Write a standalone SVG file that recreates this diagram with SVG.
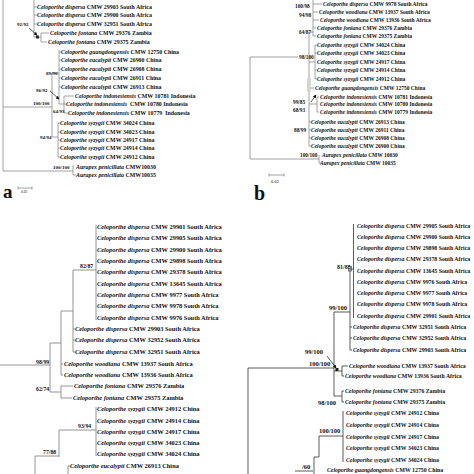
<svg xmlns="http://www.w3.org/2000/svg" width="474" height="474" viewBox="0 0 474 474">
<defs>
<style>
text{font-family:"Liberation Serif","Times New Roman",serif;font-weight:bold;fill:#111}
.ta{font-size:5.9px}.tb{font-size:5.5px}.tc{font-size:6.4px}.td{font-size:5.8px}
.i{font-style:italic}
.sa{font-size:5px}.sb{font-size:5.3px}.sc{font-size:5.8px}.sd{font-size:6.5px}
.la{stroke:#8c8c8c;stroke-width:.8;fill:none}
.lc{stroke:#7a7a7a;stroke-width:.8;fill:none}
.ld{stroke:#333;stroke-width:.8;fill:none}
.ar{stroke:#111;stroke-width:.7;fill:none}
</style>
<marker id="ah" viewBox="0 0 6 6" refX="5" refY="3" markerWidth="5" markerHeight="5" orient="auto"><path d="M0,0L6,3L0,6z" fill="#111"/></marker>
</defs>
<rect width="474" height="474" fill="#fff"/>

<g id="connectors">
<!-- panel a -->
<path class="la" d="M3,0V171H73M73,165V175H76M3,107H52M52,73V137M52,73H59M59,50V104M59,52H61M59,60H61M59,69H61M59,78H61M59,87H61M59,104H64M64,96V113M64,96H74M64,104H66M64,113H68M52,137H58M58,123V157M58,123H60M58,132H60M58,140H60M58,148H60M58,157H60"/>
<path class="la" d="M34,0V37M34,7H37M34,15H37M34,24H37M34,37H41M41,33V42M41,33H49M41,42H47"/>
<rect x="36" y="35.5" width="3" height="3" fill="#222"/>
<path class="ar" d="M29,28L37,35" marker-end="url(#ah)"/>
<path class="ar" d="M50,91L59,99" marker-end="url(#ah)"/>
<path class="la" d="M18,188H32M18,186.5V189.5M32,186.5V189.5"/>
<!-- panel b -->
<path class="la" d="M250,57V159H319M250,57H298M319,155V163H321M313,0V36M313,4H322M313,12H318M313,20H319M313,28H316M313,36H316M309,32V146M309,32H313M309,62H315M315,45V79M315,45H317M315,53H317M315,70H317M315,79H317M309,88H314M309,104H317M317,97V112M317,97H319M317,112H319M309,122H311M309,130H311M309,138H311M309,146H311"/>
<rect x="307" y="78" width="4" height="14" fill="#d4d4d4"/>
<path class="ar" d="M311,102L316,95" marker-end="url(#ah)"/>
<path class="la" d="M269,175H284M269,173.5V176.5M284,173.5V176.5"/>
<!-- panel c -->
<path class="lc" d="M96,225V320M73,270H96M73,270V352M73,329H75M73,340H75M73,352H75M61,311H73M61,311V375M61,364H63M61,375H63M50,343H61M50,343V392M0,365H50M50,392H61M61,386V398M61,386H73M61,398H72M96,407V456M59,430H96M59,430V457M35,456H59M35,456V474M68,466V474M68,466H70"/>
<!-- panel d -->
<path class="ld" d="M353.5,224V318M350,269H353.5M350,269V350M350,327H352M350,338H352M350,350H352M334,312H350M334,312V396M334,371H342M342,366V376M342,366H348M342,376H344M334,396H342M342,391V402M342,391H344M342,402H344M248,368H334M248,368V474M343,411V462M319,436H343M319,436V457M314,457H319M314,457V474M295,471H313"/>
<rect x="348.5" y="266.5" width="3" height="4.5" fill="none" stroke="#333" stroke-width=".6"/>
<rect x="335.5" y="368" width="3" height="3" fill="#222"/>
<path class="ar" d="M327,356L336,368" marker-end="url(#ah)"/>
</g>

<g id="support-values">
<text class="sa" x="17" y="26">92/92</text>
<text class="sa" x="46" y="75">89/90</text>
<text class="sa" x="36" y="92">96/92</text>
<text class="sa" x="33" y="105">100/100</text>
<text class="sa" x="53" y="113">64/93</text>
<text class="sa" x="40" y="139">94/94</text>
<text class="sa" x="53" y="169">100/100</text>
<text class="sb" x="295" y="8">100/98</text>
<text class="sb" x="299" y="17">94/98</text>
<text class="sb" x="299" y="34">64/87</text>
<text class="sb" x="299" y="59">98/100</text>
<text class="sb" x="293" y="104">99/85</text>
<text class="sb" x="293" y="112">68/93</text>
<text class="sb" x="294" y="132">88/99</text>
<text class="sb" x="300" y="157">100/100</text>
<text class="sc" x="80" y="268">82/87</text>
<text class="sc" x="36" y="364">98/99</text>
<text class="sc" x="36" y="391">62/74</text>
<text class="sc" x="78" y="428">93/94</text>
<text class="sc" x="43" y="454">77/88</text>
<text class="sd" x="337" y="269" style="font-size:6px">81/85</text>
<text class="sd" x="329" y="310">99/100</text>
<text class="sd" x="305" y="354">99/100</text>
<text class="sd" x="309" y="366">100/100</text>
<text class="sd" x="318" y="405">98/100</text>
<text class="sd" x="319" y="433">100/100</text>
<text class="sd" x="302" y="469">/60</text>
</g>

<g id="panel-labels">
<text x="3" y="198" style="font-size:19px">a</text>
<text x="254" y="200" style="font-size:20px">b</text>
<text x="21" y="193" style="font-size:3.5px;font-weight:normal">0.02</text>
<text x="271" y="183" style="font-size:4.5px;font-weight:normal">0.02</text>
</g>

<g id="panel-a">
<g id="a1"><text class="ta" x="37" y="9"><tspan class="i">Celoporthe dispersa</tspan> CMW 29903 South Africa</text></g>
<g id="a2"><text class="ta" x="37" y="17"><tspan class="i">Celoporthe dispersa</tspan> CMW 29900 South Africa</text></g>
<g id="a3"><text class="ta" x="37" y="26"><tspan class="i">Celoporthe dispersa</tspan> CMW 32951 South Africa</text></g>
<g id="a4"><text class="ta" x="50" y="35"><tspan class="i">Celoporthe fontana</tspan> CMW 29376 Zambia</text></g>
<g id="a5"><text class="ta" x="48" y="44"><tspan class="i">Celoporthe fontana</tspan> CMW 29375 Zambia</text></g>
<g id="a6"><text class="ta" x="61" y="54"><tspan class="i">Celoporthe guangdongensis</tspan> CMW 12750 China</text></g>
<g id="a7"><text class="ta" x="61" y="62"><tspan class="i">Celoporthe eucalypti</tspan> CMW 26900 China</text></g>
<g id="a8"><text class="ta" x="61" y="71"><tspan class="i">Celoporthe eucalypti</tspan> CMW 26908 China</text></g>
<g id="a9"><text class="ta" x="61" y="80"><tspan class="i">Celoporthe eucalypti</tspan> CMW 26911 China</text></g>
<g id="a10"><text class="ta" x="61" y="89"><tspan class="i">Celoporthe eucalypti</tspan> CMW 26913 China</text></g>
<g id="a11"><text class="ta" x="75" y="98"><tspan class="i">Celoporthe indonesiensis</tspan> CMW 10781 Indonesia</text></g>
<g id="a12"><text class="ta" x="66" y="106" xml:space="preserve"><tspan class="i">Celoporthe indonesiensis</tspan>  CMW 10780 Indonesia</text></g>
<g id="a13"><text class="ta" x="68" y="115" xml:space="preserve"><tspan class="i">Celoporthe indonesiensis</tspan> CMW 10779  Indonesia</text></g>
<g id="a14"><text class="ta" x="60" y="125"><tspan class="i">Celoporthe syzygii</tspan> CMW 34024 China</text></g>
<g id="a15"><text class="ta" x="60" y="134"><tspan class="i">Celoporthe syzygii</tspan> CMW 34023 China</text></g>
<g id="a16"><text class="ta" x="60" y="142"><tspan class="i">Celoporthe syzygii</tspan> CMW 24917 China</text></g>
<g id="a17"><text class="ta" x="60" y="150"><tspan class="i">Celoporthe syzygii</tspan> CMW 24914 China</text></g>
<g id="a18"><text class="ta" x="60" y="159"><tspan class="i">Celoporthe syzygii</tspan> CMW 24912 China</text></g>
<g id="a19"><text class="ta" x="76" y="169"><tspan class="i">Aurapex penicillata</tspan> CMW10030</text></g>
<g id="a20"><text class="ta" x="76" y="177"><tspan class="i">Aurapex penicillata</tspan> CMW10035</text></g>
</g>

<g id="panel-b">
<g id="b1"><text class="tb" x="323" y="6"><tspan class="i">Celoporthe dispersa</tspan> CMW 9978 South Africa</text></g>
<g id="b2"><text class="tb" x="319" y="14"><tspan class="i">Celoporthe woodiana</tspan> CMW 13937 South Africa</text></g>
<g id="b3"><text class="tb" x="320" y="22"><tspan class="i">Celoporthe woodiana</tspan> CMW 13936 South Africa</text></g>
<g id="b4"><text class="tb" x="317" y="30"><tspan class="i">Celoporthe fontana</tspan> CMW 29376 Zambia</text></g>
<g id="b5"><text class="tb" x="317" y="38"><tspan class="i">Celoporthe fontana</tspan> CMW 29375 Zambia</text></g>
<g id="b6"><text class="tb" x="317" y="47"><tspan class="i">Celoporthe syzygii</tspan> CMW 34024 China</text></g>
<g id="b7"><text class="tb" x="317" y="55"><tspan class="i">Celoporthe syzygii</tspan> CMW 34023 China</text></g>
<g id="b8"><text class="tb" x="317" y="64"><tspan class="i">Celoporthe syzygii</tspan> CMW 24917 China</text></g>
<g id="b9"><text class="tb" x="317" y="72"><tspan class="i">Celoporthe syzygii</tspan> CMW 24914 China</text></g>
<g id="b10"><text class="tb" x="317" y="81"><tspan class="i">Celoporthe syzygii</tspan> CMW 24912 China</text></g>
<g id="b11"><text class="tb" x="315" y="90"><tspan class="i">Celoporthe guangdongensis</tspan> CMW 12750 China</text></g>
<g id="b12"><text class="tb" x="320" y="99"><tspan class="i">Celoporthe indonesiensis</tspan> CMW 10781 Indonesia</text></g>
<g id="b13"><text class="tb" x="320" y="106"><tspan class="i">Celoporthe indonesiensis</tspan> CMW 10780 Indonesia</text></g>
<g id="b14"><text class="tb" x="320" y="114"><tspan class="i">Celoporthe indonesiensis</tspan> CMW 10779 Indonesia</text></g>
<g id="b15"><text class="tb" x="311" y="124"><tspan class="i">Celoporthe eucalypti</tspan> CMW 26913 China</text></g>
<g id="b16"><text class="tb" x="311" y="132"><tspan class="i">Celoporthe eucalypti</tspan> CMW 26911 China</text></g>
<g id="b17"><text class="tb" x="311" y="140"><tspan class="i">Celoporthe eucalypti</tspan> CMW 26908 China</text></g>
<g id="b18"><text class="tb" x="311" y="148"><tspan class="i">Celoporthe eucalypti</tspan> CMW 26900 China</text></g>
<g id="b19"><text class="tb" x="322" y="157"><tspan class="i">Aurapex penicillata</tspan> CMW 10030</text></g>
<g id="b20"><text class="tb" x="320" y="165"><tspan class="i">Aurapex penicillata</tspan> CMW 10035</text></g>
</g>

<g id="panel-c">
<g id="c1"><text class="tc" x="97" y="229"><tspan class="i">Celoporthe dispersa</tspan> CMW 29901 South Africa</text></g>
<g id="c2"><text class="tc" x="97" y="240"><tspan class="i">Celoporthe dispersa</tspan> CMW 29905 South Africa</text></g>
<g id="c3"><text class="tc" x="97" y="252"><tspan class="i">Celoporthe dispersa</tspan> CMW 29900 South Africa</text></g>
<g id="c4"><text class="tc" x="97" y="263"><tspan class="i">Celoporthe dispersa</tspan> CMW 29898 South Africa</text></g>
<g id="c5"><text class="tc" x="97" y="274"><tspan class="i">Celoporthe dispersa</tspan> CMW 29378 South Africa</text></g>
<g id="c6"><text class="tc" x="97" y="286"><tspan class="i">Celoporthe dispersa</tspan> CMW 13645 South Africa</text></g>
<g id="c7"><text class="tc" x="97" y="297"><tspan class="i">Celoporthe dispersa</tspan> CMW 9977 South Africa</text></g>
<g id="c8"><text class="tc" x="97" y="308"><tspan class="i">Celoporthe dispersa</tspan> CMW 9978 South Africa</text></g>
<g id="c9"><text class="tc" x="97" y="320"><tspan class="i">Celoporthe dispersa</tspan> CMW 9976 South Africa</text></g>
<g id="c10"><text class="tc" x="75" y="331"><tspan class="i">Celoporthe dispersa</tspan> CMW 29903 South Africa</text></g>
<g id="c11"><text class="tc" x="75" y="342"><tspan class="i">Celoporthe dispersa</tspan> CMW 32952 South Africa</text></g>
<g id="c12"><text class="tc" x="75" y="354"><tspan class="i">Celoporthe dispersa</tspan> CMW 32951 South Africa</text></g>
<g id="c13"><text class="tc" x="64" y="366"><tspan class="i">Celoporthe woodiana</tspan> CMW 13937 South Africa</text></g>
<g id="c14"><text class="tc" x="64" y="377"><tspan class="i">Celoporthe woodiana</tspan> CMW 13936 South Africa</text></g>
<g id="c15"><text class="tc" x="74" y="388"><tspan class="i">Celoporthe fontana</tspan> CMW 29376 Zambia</text></g>
<g id="c16"><text class="tc" x="73" y="400"><tspan class="i">Celoporthe fontana</tspan> CMW 29375 Zambia</text></g>
<g id="c17"><text class="tc" x="97" y="411"><tspan class="i">Celoporthe syzygii</tspan> CMW 24912 China</text></g>
<g id="c18"><text class="tc" x="97" y="423"><tspan class="i">Celoporthe syzygii</tspan> CMW 24914 China</text></g>
<g id="c19"><text class="tc" x="97" y="434"><tspan class="i">Celoporthe syzygii</tspan> CMW 24917 China</text></g>
<g id="c20"><text class="tc" x="97" y="445"><tspan class="i">Celoporthe syzygii</tspan> CMW 34023 China</text></g>
<g id="c21"><text class="tc" x="97" y="456"><tspan class="i">Celoporthe syzygii</tspan> CMW 34024 China</text></g>
<g id="c22"><text class="tc" x="70" y="468"><tspan class="i">Celoporthe eucalypti</tspan> CMW 26913 China</text></g>
</g>

<g id="panel-d">
<g id="d1"><text class="td" x="357" y="228"><tspan class="i">Celoporthe dispersa</tspan> CMW 29905 South Africa</text></g>
<g id="d2"><text class="td" x="357" y="239"><tspan class="i">Celoporthe dispersa</tspan> CMW 29900 South Africa</text></g>
<g id="d3"><text class="td" x="357" y="250"><tspan class="i">Celoporthe dispersa</tspan> CMW 29898 South Africa</text></g>
<g id="d4"><text class="td" x="357" y="261"><tspan class="i">Celoporthe dispersa</tspan> CMW 29378 South Africa</text></g>
<g id="d5"><text class="td" x="357" y="273"><tspan class="i">Celoporthe dispersa</tspan> CMW 13645 South Africa</text></g>
<g id="d6"><text class="td" x="357" y="284"><tspan class="i">Celoporthe dispersa</tspan> CMW 9976 South Africa</text></g>
<g id="d7"><text class="td" x="357" y="295"><tspan class="i">Celoporthe dispersa</tspan> CMW 9977 South Africa</text></g>
<g id="d8"><text class="td" x="357" y="306"><tspan class="i">Celoporthe dispersa</tspan> CMW 9978 South Africa</text></g>
<g id="d9"><text class="td" x="357" y="318"><tspan class="i">Celoporthe dispersa</tspan> CMW 29901 South Africa</text></g>
<g id="d10"><text class="td" x="353" y="329"><tspan class="i">Celoporthe dispersa</tspan> CMW 32951 South Africa</text></g>
<g id="d11"><text class="td" x="353" y="340"><tspan class="i">Celoporthe dispersa</tspan> CMW 32952 South Africa</text></g>
<g id="d12"><text class="td" x="353" y="352"><tspan class="i">Celoporthe dispersa</tspan> CMW 29903 South Africa</text></g>
<g id="d13"><text class="td" x="349" y="368"><tspan class="i">Celoporthe woodiana</tspan> CMW 13937 South Africa</text></g>
<g id="d14"><text class="td" x="345" y="378"><tspan class="i">Celoporthe woodiana</tspan> CMW 13936 South Africa</text></g>
<g id="d15"><text class="td" x="345" y="393"><tspan class="i">Celoporthe fontana</tspan> CMW 29376 Zambia</text></g>
<g id="d16"><text class="td" x="345" y="404"><tspan class="i">Celoporthe fontana</tspan> CMW 29375 Zambia</text></g>
<g id="d17"><text class="td" x="346" y="415"><tspan class="i">Celoporthe syzygii</tspan> CMW 24912 China</text></g>
<g id="d18"><text class="td" x="346" y="427"><tspan class="i">Celoporthe syzygii</tspan> CMW 24914 China</text></g>
<g id="d19"><text class="td" x="346" y="439"><tspan class="i">Celoporthe syzygii</tspan> CMW 24917 China</text></g>
<g id="d20"><text class="td" x="346" y="450"><tspan class="i">Celoporthe syzygii</tspan> CMW 34023 China</text></g>
<g id="d21"><text class="td" x="346" y="462"><tspan class="i">Celoporthe syzygii</tspan> CMW 34024 China</text></g>
<g id="d22"><text class="td" x="327" y="472.3"><tspan class="i">Celoporthe guangdongensis</tspan> CMW 12750 China</text></g>
</g>
</svg>
